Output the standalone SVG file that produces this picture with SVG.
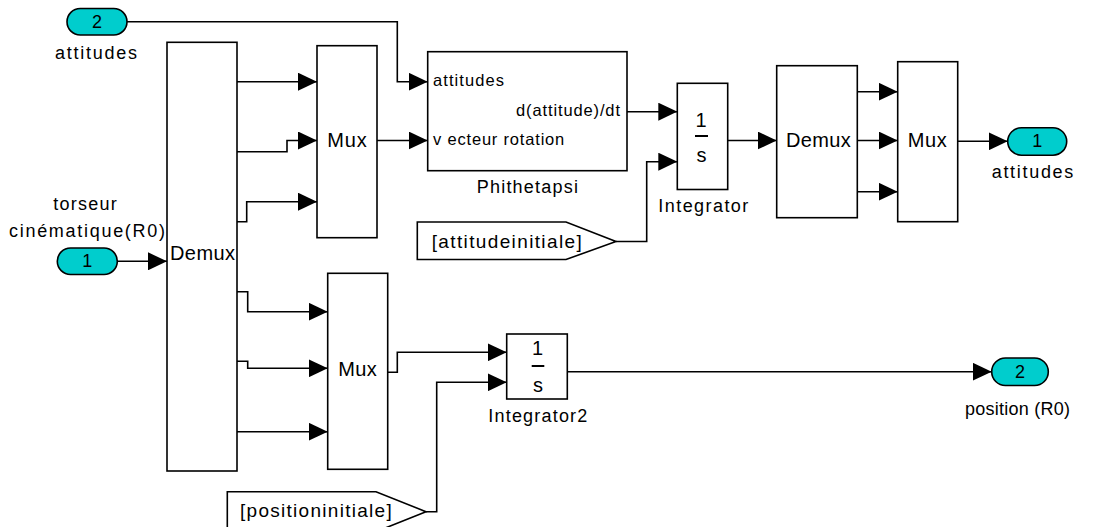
<svg xmlns="http://www.w3.org/2000/svg" width="1114" height="527" viewBox="0 0 1114 527">
  <style>
    .blk { fill: #ffffff; stroke: #000000; stroke-width: 1.6; }
    .port { fill: #00cdcd; stroke: #000000; stroke-width: 1.6; }
    .wire { fill: none; stroke: #000000; stroke-width: 1.6; marker-end: url(#arrow); }
    .bar { stroke: #000000; stroke-width: 2; }
    text { font-family: "Liberation Sans", Arial, Helvetica, sans-serif; fill: #000000; }
    .lbl { font-size: 18px; }
    .name { font-size: 20px; }
    .pin { font-size: 16.5px; }
    .goto { font-size: 19px; }
    .num { font-size: 18px; text-anchor: middle; }
    .tf { font-size: 20px; text-anchor: middle; }
  </style>
  <defs>
    <marker id="arrow" markerUnits="userSpaceOnUse" markerWidth="19" markerHeight="18" refX="19" refY="9" orient="auto">
      <path d="M0,0 L19,9 L0,18 Z" fill="#000000"/>
    </marker>
  </defs>

  <rect width="1114" height="527" fill="#ffffff"/>

  <!-- signal lines -->
  <g id="connectors">
    <path class="wire" d="M127,21.7 H397.3 V81.7 H427.7"/>
    <path class="wire" d="M237,81.7 H317"/>
    <path class="wire" d="M237,151.7 H287 V140.5 H317"/>
    <path class="wire" d="M237,221.7 H246.7 V201.7 H317"/>
    <path class="wire" d="M237,291.7 H247.7 V311.7 H327.7"/>
    <path class="wire" d="M237,361.3 H247.7 V368.3 H327.7"/>
    <path class="wire" d="M237,431.7 H327.7"/>
    <path class="wire" d="M377,140.5 H427.7"/>
    <path class="wire" d="M627,111.7 H677.3"/>
    <path class="wire" d="M616,241.5 H646.7 V161.7 H677.3"/>
    <path class="wire" d="M727.7,140.5 H776.7"/>
    <path class="wire" d="M857.3,91.7 H897.7"/>
    <path class="wire" d="M857.3,140.5 H897.7"/>
    <path class="wire" d="M857.3,191.7 H897.7"/>
    <path class="wire" d="M957.7,141.3 H1007.7"/>
    <path class="wire" d="M117.3,261.3 H167"/>
    <path class="wire" d="M387.7,372.3 H397.3 V352.3 H506.7"/>
    <path class="wire" d="M426,511.7 H436.7 V382.3 H506.7"/>
    <path class="wire" d="M567.3,371.7 H991.7"/>
  </g>

  <!-- input ports -->
  <g id="in_attitudes">
    <rect class="port" x="67" y="8.5" width="60" height="26.5" rx="13.25"/>
    <text class="num" x="97" y="27.5">2</text>
    <text class="lbl" x="55" y="59" textLength="82" lengthAdjust="spacing">attitudes</text>
  </g>
  <g id="in_torseur">
    <rect class="port" x="57.3" y="248" width="60" height="26.5" rx="13.25"/>
    <text class="num" x="87.3" y="267">1</text>
    <text class="lbl" x="53.3" y="210" textLength="63.4" lengthAdjust="spacing">torseur</text>
    <text class="lbl" x="9" y="237.3" textLength="156" lengthAdjust="spacing">cinématique(R0)</text>
  </g>

  <!-- demultiplexer of the kinematic screw -->
  <g id="demux_main">
    <rect class="blk" x="167" y="42.3" width="70" height="428.7"/>
    <text class="name" x="170" y="260" textLength="65" lengthAdjust="spacing">Demux</text>
  </g>

  <g id="mux_rotation">
    <rect class="blk" x="317" y="45.7" width="60" height="192"/>
    <text class="name" x="327.3" y="146.5" textLength="39.4" lengthAdjust="spacing">Mux</text>
  </g>

  <g id="mux_velocity">
    <rect class="blk" x="327.7" y="273.3" width="60" height="196"/>
    <text class="name" x="338.3" y="376" textLength="38.4" lengthAdjust="spacing">Mux</text>
  </g>

  <!-- Euler angle rate subsystem -->
  <g id="phithetapsi">
    <rect class="blk" x="427.7" y="51.7" width="199.3" height="119"/>
    <text class="pin" x="433" y="86" textLength="71" lengthAdjust="spacing">attitudes</text>
    <text class="pin" x="516" y="116" textLength="104" lengthAdjust="spacing">d(attitude)/dt</text>
    <text class="pin" x="433" y="145" textLength="131.3" lengthAdjust="spacing">v ecteur rotation</text>
    <text class="lbl" x="476.7" y="193" textLength="101.3" lengthAdjust="spacing">Phithetapsi</text>
  </g>

  <g id="goto_attitude">
    <polygon class="blk" points="417.3,222 566,222 616,241.5 566,259.5 417.3,259.5"/>
    <text class="goto" x="431.7" y="247.5" textLength="150" lengthAdjust="spacing">[attitudeinitiale]</text>
  </g>

  <g id="integrator">
    <rect class="blk" x="677.3" y="83.3" width="50.4" height="106.2"/>
    <text class="tf" x="701" y="126.5">1</text>
    <line class="bar" x1="695" y1="136" x2="708" y2="136"/>
    <text class="tf" x="701.5" y="161.5">s</text>
    <text class="lbl" x="658.3" y="211.5" textLength="90" lengthAdjust="spacing">Integrator</text>
  </g>

  <g id="demux_attitude">
    <rect class="blk" x="776.7" y="65.7" width="80.6" height="152"/>
    <text class="name" x="786" y="146.5" textLength="64.7" lengthAdjust="spacing">Demux</text>
  </g>

  <g id="mux_attitude">
    <rect class="blk" x="897.7" y="61.7" width="60" height="160"/>
    <text class="name" x="907.7" y="146.5" textLength="39" lengthAdjust="spacing">Mux</text>
  </g>

  <g id="out_attitudes">
    <rect class="port" x="1007.7" y="127.7" width="59" height="27.5" rx="13.75"/>
    <text class="num" x="1037.2" y="147">1</text>
    <text class="lbl" x="991.7" y="177.5" textLength="81.6" lengthAdjust="spacing">attitudes</text>
  </g>

  <g id="integrator2">
    <rect class="blk" x="506.7" y="334" width="60.6" height="65"/>
    <text class="tf" x="537.5" y="355">1</text>
    <line class="bar" x1="531.7" y1="366" x2="544.3" y2="366"/>
    <text class="tf" x="538" y="391.5">s</text>
    <text class="lbl" x="488.3" y="421.5" textLength="99" lengthAdjust="spacing">Integrator2</text>
  </g>

  <g id="goto_position">
    <polygon class="blk" points="227.3,491.7 376,491.7 426,511.7 376,531.7 227.3,531.7"/>
    <text class="goto" x="240" y="516.5" textLength="151.7" lengthAdjust="spacing">[positioninitiale]</text>
  </g>

  <g id="out_position">
    <rect class="port" x="991.7" y="358" width="56.6" height="27.5" rx="13.75"/>
    <text class="num" x="1020" y="377.5">2</text>
    <text class="lbl" x="965" y="415" textLength="105" lengthAdjust="spacing">position (R0)</text>
  </g>
</svg>
